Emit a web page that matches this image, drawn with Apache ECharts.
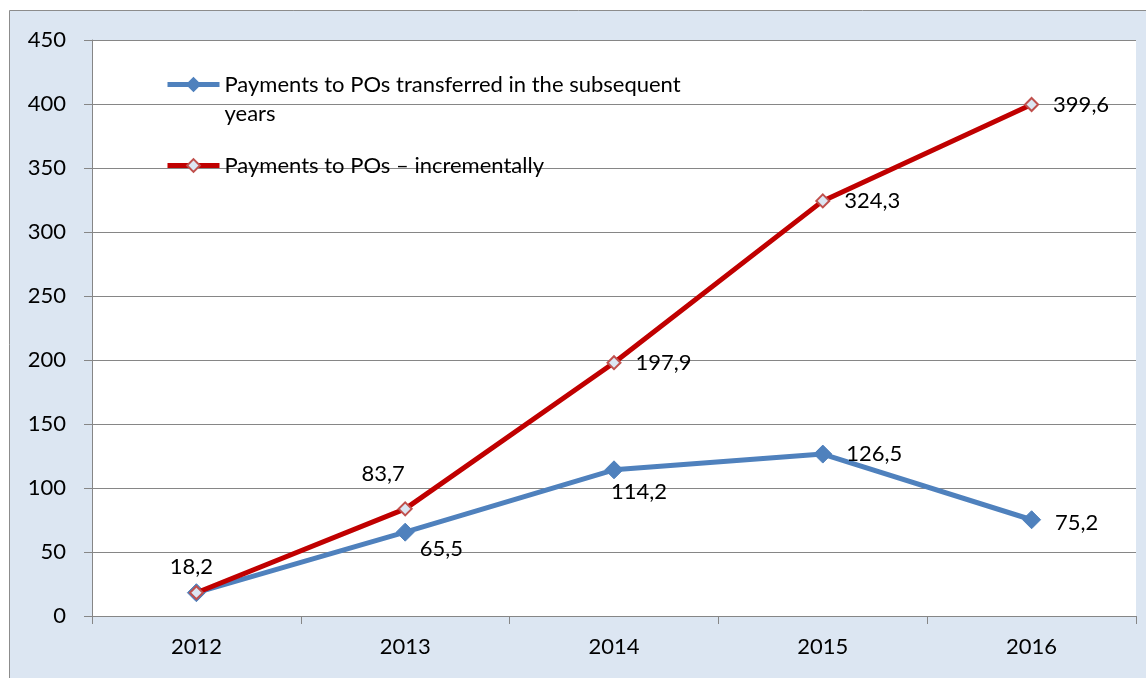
<!DOCTYPE html>
<html>
<head>
<meta charset="utf-8">
<script src="https://cdn.jsdelivr.net/npm/echarts@6/dist/echarts.min.js"></script>
<style>
html,body{margin:0;padding:0;background:#fff;}
#c{width:1146px;height:678px;}
</style>
</head>
<body>
<div id="c"></div>
<script>
const categories = ['2012', '2013', '2014', '2015', '2016'];
const seriesNames = ['Payments to POs transferred in the subsequent years', 'Payments to POs \u2013 incrementally'];
const transferred = [18.2, 65.5, 114.2, 126.5, 75.2];
const incremental = [18.2, 83.7, 197.9, 324.3, 399.6];
const yTicks = [0, 50, 100, 150, 200, 250, 300, 350, 400, 450];

const FONT = 'Lato';
const fmt = v => String(v).replace('.', ',');

// label placement per point (style only)
const blueLabelOffsets = [null, [-9, 17], [25, -12], [0, 0], [0, 3]];
const blueLabelPos = [null, 'right', 'bottom', 'right', 'right'];
const redLabelOffsets = [[-5, 7], [-22, -2], [0, 0], [0, 0], [0, 0]];
const redLabelPos = ['top', 'top', 'right', 'right', 'right'];

const blueData = transferred.map((v, i) => {
  if (!blueLabelPos[i]) return { value: v, label: { show: false } };
  return { value: v, label: { show: true, position: blueLabelPos[i], offset: blueLabelOffsets[i] } };
});
const redData = incremental.map((v, i) => ({
  value: v, label: { show: true, position: redLabelPos[i], offset: redLabelOffsets[i] }
}));

const chart = echarts.init(document.getElementById('c'), null, { renderer: 'canvas' });
const labelStyle = { color: '#000', fontFamily: FONT, fontSize: 22, distance: 14, formatter: p => fmt(p.value) };

chart.setOption({
  animation: false,
  backgroundColor: '#ffffff',
  graphic: [{
    type: 'rect', z: -10, silent: true,
    shape: { x: 9.5, y: 10.5, width: 1160, height: 700 },
    style: { fill: '#dce6f2', stroke: '#8c8c8c', lineWidth: 1 }
  }],
  grid: {
    left: 92, right: 10, top: 40, bottom: 62,
    show: true, backgroundColor: '#ffffff', borderWidth: 0
  },
  legend: [{
    data: [seriesNames[0]],
    left: 160, top: 36,
    itemWidth: 52, itemHeight: 16,
    lineStyle: { width: 5 },
    formatter: n => '\n' + n,
    textStyle: { fontFamily: FONT, fontSize: 22, color: '#000', width: 470, overflow: 'break', lineHeight: 29 }
  }, {
    data: [seriesNames[1]],
    left: 160, top: 146,
    itemWidth: 52, itemHeight: 16,
    lineStyle: { width: 5 },
    textStyle: { fontFamily: FONT, fontSize: 22, color: '#000', lineHeight: 29 }
  }],
  xAxis: {
    type: 'category',
    data: categories,
    boundaryGap: true,
    axisLine: { lineStyle: { color: '#868686', width: 1 } },
    axisTick: { show: true, length: 8, lineStyle: { color: '#868686' } },
    axisLabel: { color: '#000', fontFamily: FONT, fontSize: 22, margin: 20 },
    splitLine: { show: false }
  },
  yAxis: {
    type: 'value',
    min: 0, max: 450, interval: 50,
    axisLine: { show: true, lineStyle: { color: '#868686', width: 1 } },
    axisTick: { show: true, length: 8, lineStyle: { color: '#868686' } },
    axisLabel: { color: '#000', fontFamily: FONT, fontSize: 22, margin: 26,
      formatter: v => yTicks.includes(v) ? String(v) : '' },
    splitLine: { show: true, lineStyle: { color: '#868686', width: 1 } }
  },
  series: [{
    name: seriesNames[0],
    type: 'line',
    data: blueData,
    z: 2,
    symbol: 'diamond', symbolSize: 18,
    lineStyle: { color: '#4f81bd', width: 5 },
    itemStyle: { color: '#4f81bd', borderColor: '#4f81bd', borderWidth: 1 },
    label: labelStyle
  }, {
    name: seriesNames[1],
    type: 'line',
    data: redData,
    z: 3,
    symbol: 'diamond', symbolSize: 13,
    lineStyle: { color: '#c00000', width: 5 },
    itemStyle: { color: '#dce6f2', borderColor: '#c0504d', borderWidth: 2 },
    label: labelStyle
  }]
});
</script>
</body>
</html>
